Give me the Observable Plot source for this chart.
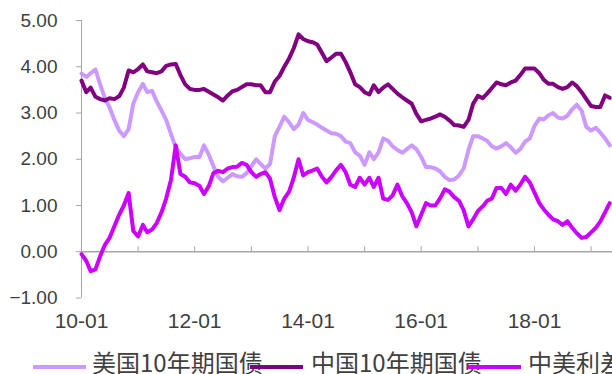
<!DOCTYPE html>
<html>
<head>
<meta charset="utf-8">
<script src="https://cdn.jsdelivr.net/npm/d3@7"></script>
<script src="https://cdn.jsdelivr.net/npm/@observablehq/plot@0.6"></script>
<style>
  html, body { margin: 0; padding: 0; background: #fff; }
  #wrap { position: relative; width: 612px; height: 374px; overflow: hidden; }
  #chart svg { display: block; }
  .ln { position: absolute; height: 4px; width: 53px; }
  .lt { position: absolute; font-family: "Noto Sans CJK SC", sans-serif; font-size: 24px; line-height: 20px; color: #404040; white-space: nowrap; }
</style>
</head>
<body>
<div id="wrap">
  <div id="chart"></div>
  <div id="legend"></div>
</div>
<script>
// ---- data (monthly, Jan 2010 – May 2019) ----
const startYear = 2010;
const seriesNames = ["美国10年期国债", "中国10年期国债", "中美利差"];
const seriesColors = ["#CC99FF", "#800080", "#CC00FF"];
const xTickLabelsYears = [2010, 2012, 2014, 2016, 2018];
const xMinorYears = [2011, 2012, 2013, 2014, 2015, 2016, 2017, 2018, 2019];
const yTicks = [-1, 0, 1, 2, 3, 4, 5];

const usYield = [3.85,3.78,3.86,3.94,3.62,3.32,3.12,2.85,2.62,2.50,2.65,3.20,
3.45,3.63,3.45,3.48,3.25,3.05,2.85,2.55,2.25,2.12,2.00,2.02,
2.05,2.05,2.30,2.10,1.85,1.62,1.52,1.60,1.68,1.63,1.62,1.70,
1.85,2.00,1.90,1.80,1.90,2.50,2.70,2.92,2.80,2.65,2.75,3.00,
2.85,2.80,2.75,2.68,2.62,2.56,2.55,2.50,2.38,2.35,2.15,2.08,
1.88,2.15,2.00,2.15,2.45,2.40,2.28,2.20,2.14,2.22,2.30,2.22,
2.05,1.83,1.83,1.80,1.74,1.62,1.55,1.56,1.65,1.80,2.20,2.50,
2.50,2.45,2.40,2.28,2.23,2.28,2.35,2.26,2.14,2.22,2.38,2.45,
2.72,2.88,2.86,2.95,3.00,2.90,2.88,2.94,3.08,3.18,3.05,2.70,
2.62,2.68,2.58,2.45,2.30];

const cnYield = [3.70,3.45,3.55,3.35,3.30,3.27,3.32,3.30,3.36,3.55,3.92,3.88,
3.95,4.05,3.90,3.88,3.86,3.90,4.02,4.05,4.06,3.82,3.62,3.52,
3.50,3.50,3.52,3.46,3.40,3.34,3.27,3.38,3.47,3.50,3.56,3.62,
3.62,3.60,3.60,3.45,3.45,3.68,3.80,4.00,4.18,4.40,4.70,4.60,
4.55,4.53,4.48,4.30,4.12,4.20,4.28,4.28,4.10,3.88,3.62,3.56,
3.45,3.40,3.60,3.45,3.55,3.62,3.52,3.42,3.34,3.27,3.20,2.98,
2.82,2.85,2.88,2.92,2.97,2.92,2.84,2.74,2.73,2.70,2.85,3.20,
3.37,3.32,3.42,3.54,3.66,3.62,3.60,3.66,3.70,3.82,3.96,3.96,
3.96,3.86,3.72,3.63,3.63,3.56,3.52,3.56,3.66,3.58,3.45,3.30,
3.15,3.13,3.13,3.38,3.33];

const spread = [-0.05,-0.20,-0.42,-0.38,-0.10,0.15,0.30,0.55,0.80,1.00,1.27,0.45,
0.33,0.58,0.42,0.48,0.62,0.85,1.15,1.55,2.30,1.68,1.62,1.50,
1.48,1.42,1.25,1.42,1.70,1.75,1.72,1.80,1.83,1.84,1.92,1.88,
1.72,1.62,1.68,1.72,1.58,1.18,0.90,1.15,1.30,1.60,2.00,1.65,
1.72,1.76,1.80,1.62,1.50,1.62,1.76,1.88,1.72,1.45,1.40,1.60,
1.45,1.60,1.40,1.60,1.15,1.12,1.22,1.45,1.20,1.05,0.85,0.55,
0.80,1.05,1.00,1.00,1.15,1.35,1.30,1.18,1.10,0.90,0.55,0.70,
0.88,0.98,1.10,1.15,1.38,1.38,1.25,1.45,1.32,1.45,1.62,1.50,
1.28,1.05,0.92,0.80,0.70,0.66,0.58,0.66,0.52,0.40,0.30,0.32,
0.42,0.52,0.65,0.85,1.05];

// ---- build table ----
const dates = usYield.map((_, i) => new Date(Date.UTC(startYear, i, 1)));
const seriesValues = [usYield, cnYield, spread];
const rows = seriesValues.map(vals => vals.map((v, i) => ({date: dates[i], value: v})));

const xStart = new Date(Date.UTC(2010, 0, 1));
const xEnd = new Date(Date.UTC(2019, 4, 19));
const axisGray = "#a6a6a6";
const textColor = "#404040";
const fmtX = d3.utcFormat("%y-%m");

const chart = Plot.plot({
  width: 612,
  height: 345,
  marginLeft: 81,
  marginRight: 0,
  marginTop: 20,
  marginBottom: 47.5,
  style: {fontFamily: "'Liberation Sans', Arial, sans-serif", color: textColor, background: "#fff"},
  x: {type: "utc", domain: [xStart, xEnd]},
  y: {domain: [-1, 5]},
  marks: [
    Plot.ruleX([xStart], {y1: -1, y2: 5, stroke: axisGray, strokeWidth: 1}),
    Plot.ruleY([0], {stroke: axisGray, strokeWidth: 1.5}),
    Plot.ruleX(xMinorYears.map(y => new Date(Date.UTC(y, 0, 1))), {y1: 0, y2: 0, insetBottom: 5, stroke: axisGray, strokeWidth: 1}),
    Plot.axisY({ticks: yTicks, tickSize: 5, tickPadding: 19, tickFormat: d3.format(".2f"), fontSize: 19, label: null, stroke: axisGray, fill: textColor}),
    Plot.axisX({ticks: xTickLabelsYears.map(y => new Date(Date.UTC(y, 0, 1))), anchor: "bottom", tickSize: 0, tickPadding: 15.5, tickFormat: fmtX, fontSize: 21, label: null, fill: textColor}),
    ...rows.map((r, k) => Plot.line(r, {x: "date", y: "value", stroke: seriesColors[k], strokeWidth: 4, strokeLinejoin: "round", strokeLinecap: "round"}))
  ]
});
document.getElementById("chart").appendChild(chart);

// ---- legend ----
const legend = document.getElementById("legend");
const legLineX = [33, 250, 468];
const legTextX = [92, 311, 528];
seriesNames.forEach((name, k) => {
  const ln = document.createElement("div");
  ln.className = "ln";
  ln.style.left = legLineX[k] + "px";
  ln.style.top = "365px";
  ln.style.background = seriesColors[k];
  legend.appendChild(ln);
  const t = document.createElement("div");
  t.className = "lt";
  t.style.left = legTextX[k] + "px";
  t.style.top = "352px";
  t.textContent = name;
  legend.appendChild(t);
});
</script>
</body>
</html>
